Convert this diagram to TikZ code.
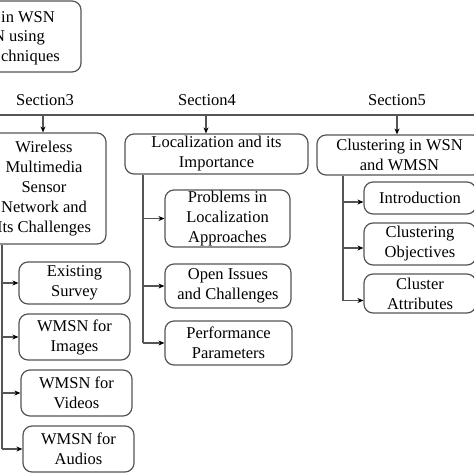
\documentclass[tikz,border=0pt]{standalone}
\usepackage{fontspec}
\setmainfont{Liberation Serif}
\usetikzlibrary{arrows.meta}
\definecolor{ln}{HTML}{555555}
\tikzset{
  box/.style={draw=ln, line width=1.2pt, rounded corners=9pt, align=center, inner sep=0pt,
    font=\fontsize{16.5}{20}\selectfont},
  lbl/.style={inner sep=0pt, font=\fontsize{16.5}{20}\selectfont},
  trunk/.style={draw=ln, line width=1.2pt},
  arr/.style={draw=ln, line width=1.2pt, -{Stealth[length=6pt,width=5pt,color=black]}}
}
\begin{document}
\begin{tikzpicture}[x=1pt,y=-1pt]
\useasboundingbox (0,0) rectangle (474,474);
\clip (0,0) rectangle (474,474);
% top box (cut off)
\node[box, minimum width=111pt, minimum height=71pt] (top) at (25.5,36.5) {};
\node[lbl, anchor=east] (t1) at (55,17) {in WSN};
\node[lbl, anchor=east] (t2) at (45,38) {N using};
\node[lbl, anchor=east] (t3) at (60,58) {chniques};
% sections
\node[lbl] (sec3) at (45,100) {Section3};
\node[lbl] (sec4) at (207,100) {Section4};
\node[lbl] (sec5) at (397,100) {Section5};
\coordinate (hl) at (-5,115);
\coordinate (hr) at (480,115);
\draw[trunk] (hl) -- (hr);
\coordinate (s3) at (43,115);
\coordinate (s4) at (206,115);
\coordinate (s5) at (397,115);
% level 1 boxes
\node[box, minimum width=124pt, minimum height=111pt] (wms) at (44,188.5)
  {Wireless\\Multimedia\\Sensor\\Network and\\Its Challenges};
\node[box, minimum width=183pt, minimum height=40pt] (loc) at (216.5,154)
  {Localization and its\\Importance};
\node[box, minimum width=165pt, minimum height=40pt] (clu) at (399.5,155)
  {Clustering in WSN\\and WMSN};
\draw[arr] (s3) -- (s3 |- wms.north);
\draw[arr] (s4) -- (s4 |- loc.north);
\draw[arr] (s5) -- (s5 |- clu.north);
% section 3 children
\node[box, minimum width=111pt, minimum height=42pt] (es) at (74.5,283) {Existing\\Survey};
\node[box, minimum width=111pt, minimum height=46pt] (img) at (74.5,337) {WMSN for\\Images};
\node[box, minimum width=111pt, minimum height=46pt] (vid) at (76.5,393) {WMSN for\\Videos};
\node[box, minimum width=111pt, minimum height=46pt] (aud) at (78.5,449) {WMSN for\\Audios};
\coordinate (k3) at (2,0);
\draw[trunk] (k3 |- wms.south) -- (k3 |- aud.west);
\draw[arr] (k3 |- es.west) -- (es.west);
\draw[arr] (k3 |- img.west) -- (img.west);
\draw[arr] (k3 |- vid.west) -- (vid.west);
\draw[arr] (k3 |- aud.west) -- (aud.west);
% section 4 children
\node[box, minimum width=125pt, minimum height=57pt] (prob) at (227.5,218.5) {Problems in\\Localization\\Approaches};
\node[box, minimum width=126pt, minimum height=44pt] (open) at (228,286) {Open Issues\\and Challenges};
\node[box, minimum width=127pt, minimum height=44pt] (perf) at (228.5,343) {Performance\\Parameters};
\coordinate (k4) at (143,0);
\draw[trunk] (k4 |- loc.south) -- (k4 |- perf.west);
\draw[arr] (k4 |- prob.west) -- (prob.west);
\draw[arr] (k4 |- open.west) -- (open.west);
\draw[arr] (k4 |- perf.west) -- (perf.west);
% section 5 children
\node[box, minimum width=112pt, minimum height=32pt] (intro) at (420,198) {Introduction};
\node[box, minimum width=112pt, minimum height=42pt] (obj) at (420,244) {Clustering\\Objectives};
\node[box, minimum width=112pt, minimum height=39pt] (attr) at (420,293.5) {Cluster\\Attributes};
\coordinate (k5) at (343,0);
\coordinate (a1) at ([yshift=-4pt]intro.west);
\coordinate (a2) at ([yshift=-4pt]obj.west);
\coordinate (a3) at ([yshift=-7pt]attr.west);
\draw[trunk] (k5 |- clu.south) -- (k5 |- a3);
\draw[arr] (k5 |- a1) -- (a1);
\draw[arr] (k5 |- a2) -- (a2);
\draw[arr] (k5 |- a3) -- (a3);
\end{tikzpicture}
\end{document}
